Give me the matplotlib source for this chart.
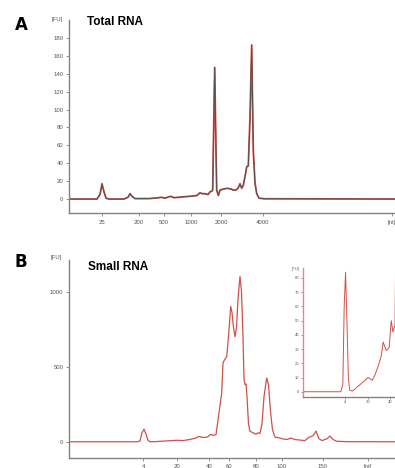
import numpy as np
import matplotlib.pyplot as plt

plt.rcParams['font.family'] = ['Liberation Sans', 'DejaVu Sans']

# Panel A: total RNA electropherogram (migration position a.u., fluorescence FU)
t_total = [0, 28, 31, 33, 35, 37, 40, 55, 59, 61, 63, 66, 80, 90, 92, 96, 100, 102,
           105, 110, 120, 125, 128, 131, 133, 136, 139, 141, 143, 143.7, 144.3, 145.7,
           147, 147.7, 149.3, 151, 154, 158, 162.7, 164, 167, 169, 171, 172.7, 174.3,
           176, 177.7, 179.3, 181, 182.7, 184.3, 186, 187.7, 190, 195, 326]
fu_total = [0, 0, 5, 17, 8, 1, 0, 0, 2, 6, 3, 0.5, 0.5, 1.5, 2, 1, 2.5, 3,
            1.5, 2, 3, 3.5, 4, 7, 6, 6, 5, 8, 9, 10, 54, 147,
            54, 10, 4, 10, 11, 12, 11, 10, 10, 12, 17, 12, 15.5,
            25, 36, 37, 91, 172, 54, 18, 6, 1, 0.3, 0]
ticks_total = [33, 70, 95, 122, 152, 194, 323]
labels_total = ['25', '200', '500', '1000', '2000', '4000', '[nt]']

# Panel B: small RNA electropherogram
t_small = [0, 68, 71, 73, 75, 77, 79, 81, 85, 88.8, 96, 108, 113.8, 118, 122.5, 126.9,
           129.8, 134, 138.5, 141.5, 144, 147, 149, 152.7, 154, 155.5, 157.7, 159.5,
           161.7, 163, 164.5, 166, 167.5, 169, 171, 172.5, 174, 175, 176, 177, 178,
           179.5, 181, 184, 187, 189, 191, 193, 195, 197.7, 199.5, 201.5, 203.5, 206,
           209, 213, 218, 222, 226, 230, 236, 240, 244, 247, 250, 253, 258, 261, 264,
           268, 280, 326]
fu_small = [0, 0, 5, 60, 84, 50, 10, 1, 0.5, 2, 5, 10, 8, 12, 18, 25,
            35, 29, 31, 50, 42, 47, 145, 324, 525, 545, 567, 700,
            900, 860, 760, 700, 760, 950, 1100, 1000, 700, 420, 380, 385, 300,
            120, 70, 60, 50, 60, 55, 120, 300, 425, 380, 200, 80, 30,
            28, 20, 15, 25, 15, 12, 8, 30, 40, 71, 20, 8, 20, 38, 15,
            3, 0.5, 0]
ticks_small = [74, 108, 140, 160, 187, 213, 254, 299]
labels_small = ['4', '20', '40', '60', '80', '100', '150', '[nt]']
ticks_inset = [74, 108, 140]
labels_inset = ['4', '20', '40']

W, H = 395, 468
fig = plt.figure(figsize=(W / 100, H / 100), dpi=100)


def box(x0, y0, x1, y1):
    return [x0 / W, 1 - y1 / H, (x1 - x0) / W, (y1 - y0) / H]


def style(ax, fs=4.3):
    for s in ['top', 'right']:
        ax.spines[s].set_visible(False)
    for s in ['left', 'bottom']:
        ax.spines[s].set_color('#8a7f7f')
        ax.spines[s].set_linewidth(1.0)
    ax.tick_params(colors='#8a7f7f', labelcolor='#555555', labelsize=fs,
                   length=2.5, width=0.6, pad=1.5)
    ax.set_facecolor('none')


gray = '#555050'
red = '#d2504a'

# --- A ---
axA = fig.add_axes(box(69, 20, 395, 213))
axA.plot(t_total, fu_total, color=red, lw=1.3)
axA.plot(t_total, fu_total, color=gray, lw=0.7)
axA.set_xlim(0, 326)
axA.set_ylim(-15.6, 200)
axA.set_yticks(np.arange(0, 181, 20))
axA.set_xticks(ticks_total)
axA.set_xticklabels(labels_total)
style(axA)
axA.tick_params(axis='x', pad=2.5)

# --- B ---
axB = fig.add_axes(box(69, 260, 395, 458.3))
axB.plot(t_small, fu_small, color=red, lw=0.9)
axB.set_xlim(0, 326)
axB.set_ylim(-110, 1210)
axB.set_yticks([0, 500, 1000])
axB.set_xticks(ticks_small)
axB.set_xticklabels(labels_small)
style(axB)

# inset: zoom on marker region
axI = fig.add_axes(box(303, 268, 395, 397))
axI.plot(t_small, fu_small, color=red, lw=0.7)
axI.set_xlim(13, 147)
axI.set_ylim(-3.7, 87)
axI.set_yticks(np.arange(0, 81, 10))
axI.set_xticks(ticks_inset)
axI.set_xticklabels(labels_inset)
style(axI, fs=3.0)
axI.spines['left'].set_color('#e08a85')
axI.tick_params(length=1.5, pad=1)

# labels
def ftext(x, y, s, **kw):
    fig.text(x / W, 1 - y / H, s, **kw)

ftext(21, 25, 'A', fontsize=12, fontweight='bold', family='DejaVu Sans',
      ha='center', va='center')
ftext(21, 262, 'B', fontsize=12, fontweight='bold', family='DejaVu Sans',
      ha='center', va='center')
ftext(63, 19, '[FU]', fontsize=4.3, color='#555555', ha='right', va='center')
ftext(62, 258, '[FU]', fontsize=4.3, color='#555555', ha='right', va='center')
ftext(300, 269, '[FU]', fontsize=3.0, color='#555555', ha='right', va='center')
ftext(87, 22, 'Total RNA', fontsize=8.5, fontweight='bold', ha='left', va='center')
ftext(88, 267, 'Small RNA', fontsize=8.5, fontweight='bold', ha='left', va='center')

fig.savefig('out.png', dpi=100)
